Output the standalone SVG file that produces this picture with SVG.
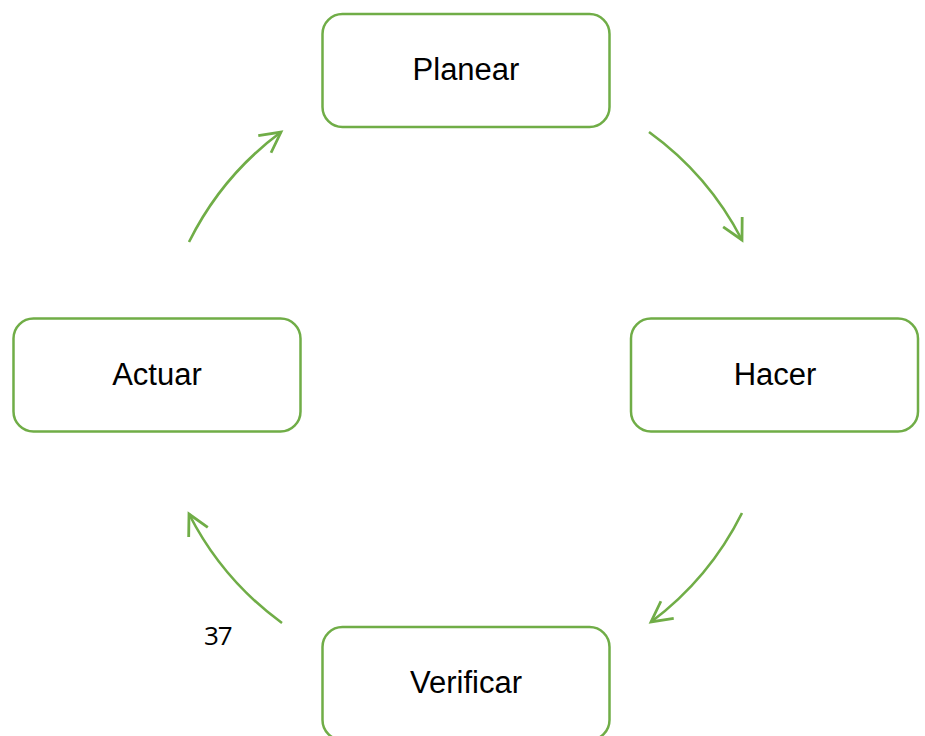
<svg xmlns="http://www.w3.org/2000/svg" width="925" height="736" viewBox="0 0 925 736">
  <defs>
    <style>
      .box { fill: #ffffff; stroke: #70AD47; stroke-width: 2.5; }
      .label { font-family: "Liberation Sans", Arial, sans-serif; font-size: 31px; fill: #000000; text-anchor: middle; }
      .flow { fill: none; stroke: #70AD47; stroke-width: 2.6; }
      .num { font-family: "Open Sans", "Noto Sans", sans-serif; font-size: 26px; fill: #000000; letter-spacing: -1px; }
    </style>
    <marker id="openArrow" markerUnits="userSpaceOnUse" markerWidth="30" markerHeight="30" viewBox="-22 -14 26 28" refX="0" refY="0" orient="auto">
      <path d="M-19,-10 L0,0 L-19,10" fill="none" stroke="#70AD47" stroke-width="2.6" stroke-linejoin="miter"/>
    </marker>
  </defs>

  <rect width="925" height="736" fill="#ffffff"/>

  <!-- cycle connectors: arcs of one circle around the middle -->
  <g id="connectors">
    <path class="flow" d="M189,242 A307,307 0 0 1 281,132" marker-end="url(#openArrow)"/>
    <path class="flow" d="M649,132 A307,307 0 0 1 742,240" marker-end="url(#openArrow)"/>
    <path class="flow" d="M742,513 A307,307 0 0 1 651,622" marker-end="url(#openArrow)"/>
    <path class="flow" d="M282,623 A307,307 0 0 1 189,514" marker-end="url(#openArrow)"/>
  </g>

  <g id="planear">
    <rect class="box" x="322.5" y="14" width="287" height="113" rx="20" ry="20"/>
    <text class="label" x="466" y="80">Planear</text>
  </g>

  <g id="hacer">
    <rect class="box" x="631" y="318.5" width="287" height="113" rx="20" ry="20"/>
    <text class="label" x="775" y="385">Hacer</text>
  </g>

  <g id="verificar">
    <rect class="box" x="322.5" y="627" width="287" height="113" rx="20" ry="20"/>
    <text class="label" x="466" y="693">Verificar</text>
  </g>

  <g id="actuar">
    <rect class="box" x="13.5" y="318.5" width="287" height="113" rx="20" ry="20"/>
    <text class="label" x="157" y="385">Actuar</text>
  </g>

  <text class="num" x="204" y="645">37</text>
</svg>
